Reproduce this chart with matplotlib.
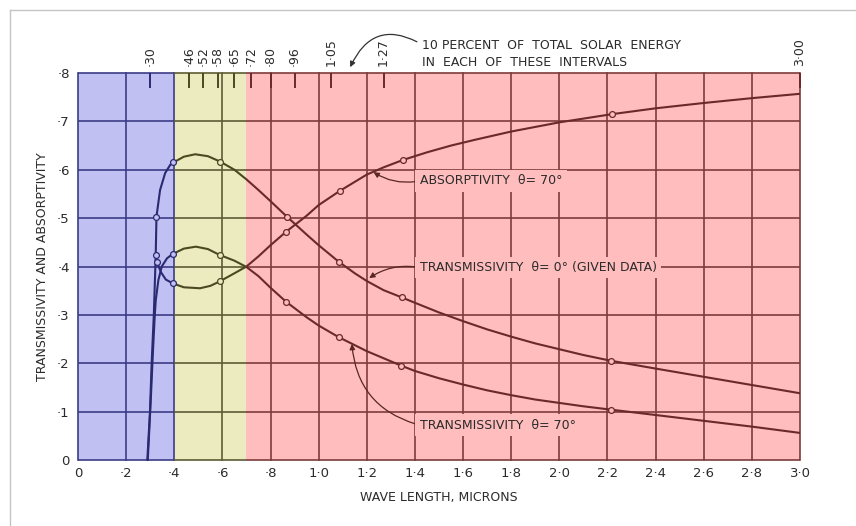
import matplotlib
matplotlib.use("Agg")
import matplotlib.pyplot as plt
from matplotlib.patches import Rectangle
from matplotlib.lines import Line2D

plt.rcParams['font.family'] = ['DejaVu Sans']

# ---------------- data ----------------
t0_wl = [0.288, 0.299, 0.306, 0.315, 0.323, 0.326, 0.341, 0.362, 0.383, 0.396, 0.44, 0.487,
         0.54, 0.59, 0.65, 0.70, 0.75, 0.80, 0.868, 0.95, 1.0, 1.083, 1.15, 1.2, 1.27, 1.346,
         1.4, 1.5, 1.6, 1.7, 1.8, 1.9, 2.0, 2.1, 2.216, 2.4, 2.6, 2.8, 3.0]
t0 = [0.0, 0.10, 0.20, 0.30, 0.424, 0.503, 0.558, 0.593, 0.61, 0.615, 0.627, 0.632,
      0.628, 0.617, 0.600, 0.580, 0.558, 0.535, 0.503, 0.466, 0.444, 0.41, 0.386, 0.37, 0.351, 0.336,
      0.325, 0.305, 0.287, 0.27, 0.255, 0.241, 0.229, 0.217, 0.205, 0.189, 0.172, 0.155, 0.138]

t70_wl = [0.29, 0.302, 0.311, 0.318, 0.323, 0.334, 0.348, 0.37, 0.394, 0.44, 0.49, 0.54, 0.588,
          0.65, 0.70, 0.75, 0.80, 0.865, 0.95, 1.0, 1.083, 1.2, 1.343, 1.4, 1.5, 1.6, 1.7, 1.8,
          1.9, 2.0, 2.1, 2.216, 2.4, 2.6, 2.8, 3.0]
t70 = [0.0, 0.12, 0.22, 0.29, 0.33, 0.372, 0.40, 0.417, 0.426, 0.437, 0.441, 0.436, 0.424,
       0.412, 0.399, 0.38, 0.356, 0.327, 0.295, 0.278, 0.254, 0.225, 0.195, 0.184, 0.169, 0.156,
       0.144, 0.134, 0.125, 0.118, 0.111, 0.104, 0.093, 0.081, 0.069, 0.056]

a70_wl = [0.327, 0.345, 0.365, 0.394, 0.44, 0.507, 0.55, 0.588, 0.65, 0.70, 0.75, 0.80, 0.865,
          0.95, 1.0, 1.087, 1.2, 1.27, 1.349, 1.45, 1.55, 1.65, 1.8, 2.0, 2.22, 2.4, 2.6, 2.8, 3.0]
a70 = [0.41, 0.388, 0.373, 0.365, 0.357, 0.355, 0.36, 0.369, 0.386, 0.40, 0.421, 0.444, 0.472,
       0.505, 0.527, 0.556, 0.59, 0.605, 0.62, 0.636, 0.65, 0.662, 0.679, 0.698, 0.715, 0.727,
       0.738, 0.748, 0.757]

t0_mk_wl = [0.323, 0.326, 0.396, 0.59, 0.868, 1.083, 1.346, 2.216]
t0_mk = [0.424, 0.503, 0.615, 0.617, 0.503, 0.41, 0.336, 0.205]
t70_mk_wl = [0.394, 0.588, 0.865, 1.083, 1.343, 2.216]
t70_mk = [0.426, 0.424, 0.327, 0.254, 0.195, 0.104]
a70_mk_wl = [0.327, 0.394, 0.588, 0.865, 1.087, 1.349, 2.22]
a70_mk = [0.41, 0.365, 0.369, 0.472, 0.556, 0.62, 0.715]

x_ticks = [0, 0.2, 0.4, 0.6, 0.8, 1.0, 1.2, 1.4, 1.6, 1.8, 2.0, 2.2, 2.4, 2.6, 2.8, 3.0]
x_labels = ['0', '·2', '·4', '·6', '·8', '1·0', '1·2', '1·4', '1·6', '1·8', '2·0',
            '2·2', '2·4', '2·6', '2·8', '3·0']
y_ticks = [0, 0.1, 0.2, 0.3, 0.4, 0.5, 0.6, 0.7, 0.8]
y_labels = ['0', '·1', '·2', '·3', '·4', '·5', '·6', '·7', '·8']

top_ticks = [0.30, 0.46, 0.52, 0.58, 0.65, 0.72, 0.80, 0.90, 1.05, 1.27, 3.00]
top_labels = ['·30', '·46', '·52', '·58', '·65', '·72', '·80', '·96', '1·05', '1·27', '3·00']

region_edges = [0.0, 0.4, 0.7, 3.0]
region_bg = ['#c0c0f2', '#ecebbf', '#ffbdbd']
region_dark = ['#2a2a72', '#4a4a22', '#6a2a2a']
grid_dark = ['#3c3c86', '#5c5c34', '#7e3c3c']

TXT = '#2b2b2b'

# ---------------- figure ----------------
fig = plt.figure(figsize=(8.56, 5.26), dpi=100)
ax = fig.add_axes([78 / 856, 1 - 460 / 526, 722 / 856, 387 / 526])
ax.set_xlim(0, 3.0)
ax.set_ylim(0, 0.8)
for s in ax.spines.values():
    s.set_visible(False)


def region_of(x):
    for i in range(3):
        if x <= region_edges[i + 1] + 1e-9:
            return i
    return 2


def clipper(i):
    return Rectangle((region_edges[i], -1), region_edges[i + 1] - region_edges[i], 3,
                     transform=ax.transData)


curves = [(t0_wl, t0), (t70_wl, t70), (a70_wl, a70)]
markers = [(t0_mk_wl, t0_mk), (t70_mk_wl, t70_mk), (a70_mk_wl, a70_mk)]

for i in range(3):
    x0, x1 = region_edges[i], region_edges[i + 1]
    ax.axvspan(x0, x1, color=region_bg[i], lw=0, zorder=0)
    for yv in y_ticks:
        ln = ax.axhline(yv, color=grid_dark[i], lw=1.2, zorder=1)
        ln.set_clip_path(clipper(i))
    for xv in x_ticks:
        if region_of(xv) == i:
            ax.axvline(xv, color=grid_dark[i], lw=1.2, zorder=1, clip_on=False)
    for wx, wy in curves:
        ln, = ax.plot(wx, wy, color=region_dark[i], lw=1.5, zorder=3,
                      solid_joinstyle='round', solid_capstyle='round')
        ln.set_clip_path(clipper(i))

for mx, my in markers:
    for i in range(3):
        px = [a for a in mx if region_of(a) == i]
        py = [b for a, b in zip(mx, my) if region_of(a) == i]
        if px:
            ax.plot(px, py, 'o', ms=4.2, mfc=region_bg[i], mec=region_dark[i], mew=0.9, zorder=4,
                    clip_on=False)

# ---------------- axes ticks ----------------
ax.set_xticks(x_ticks, x_labels)
ax.set_yticks(y_ticks, y_labels)
ax.tick_params(axis='both', length=0, labelsize=9.5, labelcolor=TXT)
ax.tick_params(axis='x', pad=5)
ax.tick_params(axis='y', pad=6)
ax.set_xlabel('WAVE LENGTH, MICRONS', fontsize=9, color=TXT, labelpad=8)
ax.set_ylabel('TRANSMISSIVITY AND ABSORPTIVITY', fontsize=9, color=TXT, labelpad=6)

# top scale: energy-interval marks drawn inward from the top edge
ax.vlines(top_ticks, 1 - 15 / 387, 1, transform=ax.get_xaxis_transform(),
          colors=[region_dark[region_of(p)] for p in top_ticks], lw=1.4, zorder=2,
          clip_on=False)
sec = ax.secondary_xaxis('top')
sec.set_xticks(top_ticks, top_labels)
sec.spines['top'].set_visible(False)
sec.tick_params(axis='x', direction='in', length=0, pad=5, labelsize=9,
                labelcolor=TXT, labelrotation=90)

# ---------------- annotations ----------------
red_bg = region_bg[2]
lead = '#5a2626'
box = dict(boxstyle='square,pad=0.35', fc=red_bg, ec='none')


def leader(rad):
    return dict(arrowstyle='-|>', color=lead, lw=0.9, mutation_scale=8, shrinkA=0, shrinkB=0,
                relpos=(0, 0.5), connectionstyle=f'arc3,rad={rad}')


ax.annotate('ABSORPTIVITY  θ= 70°', xy=(1.228, 0.595), xytext=(1.42, 0.577),
            fontsize=9, color=TXT, ha='left', va='center', bbox=box, zorder=5,
            arrowprops=leader(-0.2))
ax.annotate('TRANSMISSIVITY  θ= 0° (GIVEN DATA)', xy=(1.21, 0.376), xytext=(1.42, 0.398),
            fontsize=9, color=TXT, ha='left', va='center', bbox=box, zorder=5,
            arrowprops=leader(0.2))
ax.annotate('TRANSMISSIVITY  θ= 70°', xy=(1.138, 0.24), xytext=(1.42, 0.072),
            fontsize=9, color=TXT, ha='left', va='center', bbox=box, zorder=5,
            arrowprops=leader(-0.35))
ax.annotate('10 PERCENT  OF  TOTAL  SOLAR  ENERGY\nIN  EACH  OF  THESE  INTERVALS',
            xy=(1.131, 0.812), xytext=(1.43, 0.84), fontsize=9, color=TXT,
            ha='left', va='center', linespacing=1.4, annotation_clip=False,
            arrowprops=dict(arrowstyle='-|>', color='#333333', lw=0.9, mutation_scale=8,
                            shrinkA=2, shrinkB=0, connectionstyle='arc3,rad=0.55',
                            relpos=(0, 0.8)))

# page frame from the scan
fig.add_artist(Line2D([9.5 / 856, 1], [1 - 9.5 / 526] * 2, color='#c4c4c4', lw=1,
                      transform=fig.transFigure))
fig.add_artist(Line2D([9.5 / 856] * 2, [0, 1 - 9.5 / 526], color='#c4c4c4', lw=1,
                      transform=fig.transFigure))

fig.savefig('out.png', dpi=100, facecolor='white')
